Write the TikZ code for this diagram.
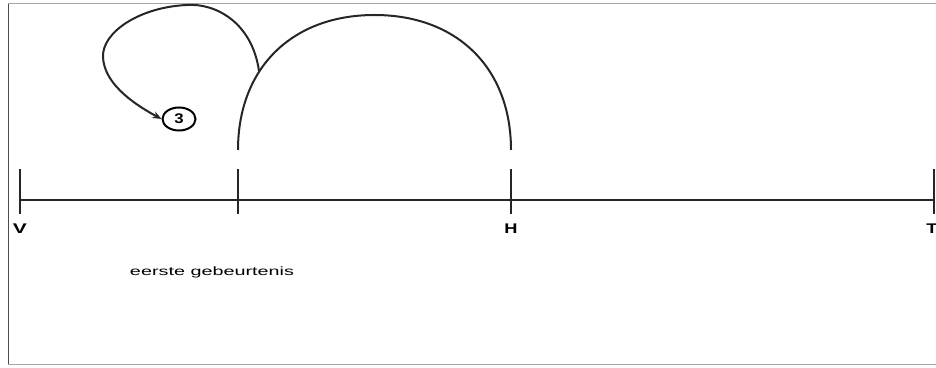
\documentclass[tikz,border=0pt]{standalone}
\usepackage{fontspec}
\usepackage{graphicx}
\setmainfont{Liberation Sans}
\usetikzlibrary{arrows.meta,shapes.geometric}
\begin{document}
\begin{tikzpicture}[x=1pt,y=1pt,
  axis/.style={line width=2pt,black!85},
  tickmark/.style={line width=2pt,black!85},
  arcline/.style={line width=2pt,black!85},
  lbl/.style={font=\bfseries\fontsize{14}{14}\selectfont,inner sep=0pt},
  numcirc/.style={draw,line width=2pt,ellipse,minimum width=33pt,minimum height=23pt,inner sep=0pt,font=\bfseries\fontsize{14}{14}\selectfont}]
\useasboundingbox (0,0) rectangle (936,367);
\fill[white] (0,0) rectangle (936,367);
% frame
\draw[line width=1pt,black!70] (8,3) -- (8,364);
\draw[line width=0.7pt,black!35] (8,364) -- (936,364);
\draw[line width=0.7pt,black!35] (8,3) -- (936,3);
% timeline coordinates
\coordinate (V) at (20,167);
\coordinate (E) at (238,167);
\coordinate (H) at (511,167);
\coordinate (T) at (934,167);
\draw[axis] (V) -- (T);
\foreach \p in {V,E,H,T}{
  \draw[tickmark] ([yshift=-14pt]\p) -- ([yshift=31pt]\p);
}
\node[lbl] (lV) at (20,138) {\scalebox{1.5}[1]{V}};
\node[lbl] (lH) at (511,138) {\scalebox{1.3}[1]{H}};
\node[lbl] (lT) at (932,138) {\scalebox{1.3}[1]{T}};
\node[inner sep=0pt,font=\fontsize{12}{12}\selectfont] (ev) at (212,95) {\scalebox{1.65}[1]{eerste gebeurtenis}};
% big arc
\coordinate (a0) at (238,217);
\coordinate (a1) at (511,217);
\coordinate (atop) at (374.5,352);
\draw[arcline] (a0) .. controls (238,299) and (292,352) .. (atop)
  .. controls (457,352) and (511,299) .. (a1);
% loop
\node[numcirc] (c3) at (179,248) {\scalebox{1.2}[1]{3}};
\coordinate (ls) at (259,296);
\draw[arcline,-{Stealth[length=9pt,width=7pt]}] (ls) .. controls (252,345) and (215,364) .. (187,362)
  .. controls (140,360) and (102,335) .. (103,310)
  .. controls (104,285) and (130,265) .. (c3.west);
\end{tikzpicture}
\end{document}
